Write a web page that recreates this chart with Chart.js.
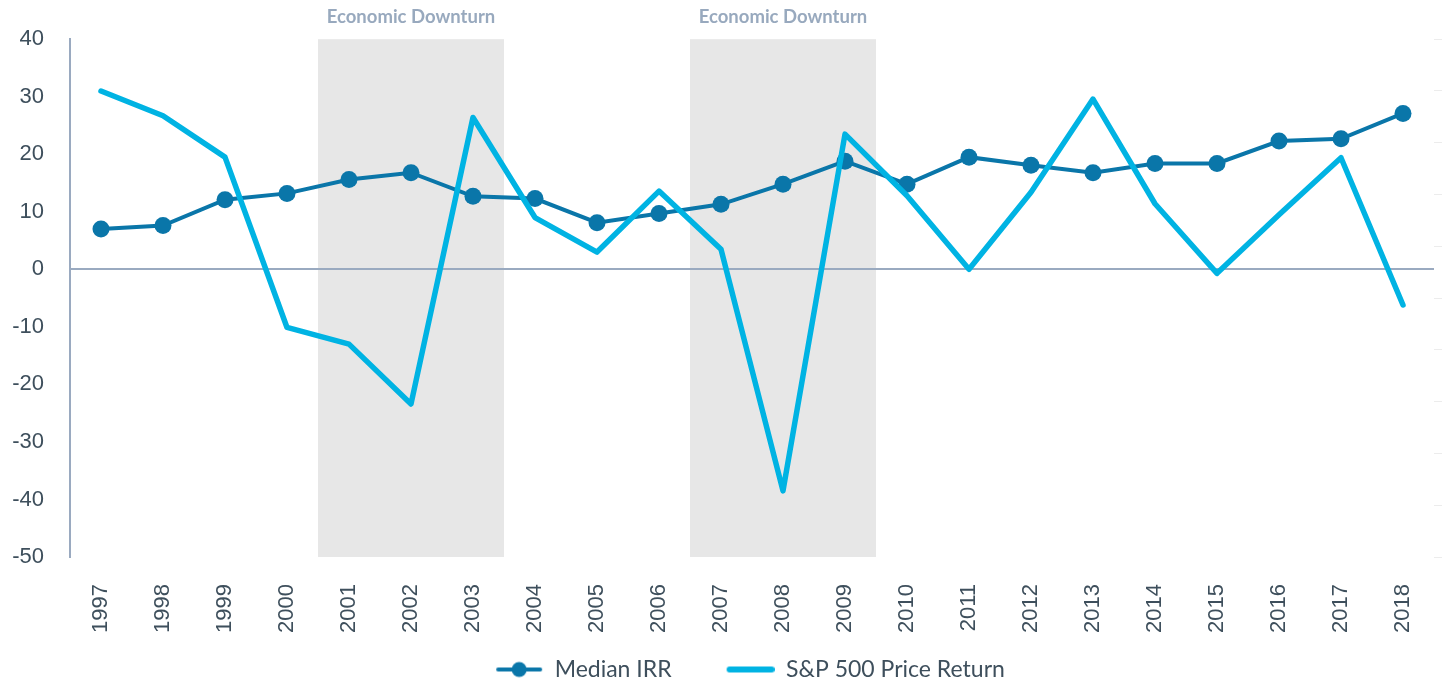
<!DOCTYPE html>
<html>
<head>
<meta charset="utf-8">
<script src="https://cdn.jsdelivr.net/npm/chart.js@4/dist/chart.umd.min.js"></script>
<style>
    html, body { margin: 0; padding: 0; background: #ffffff; }
    #wrap { width: 1443px; height: 683px; }
</style>
</head>
<body>
<div id="wrap"><canvas id="irrChart" width="1443" height="683"></canvas></div>
<script>
    // --- Data ---
    const years = ['1997', '1998', '1999', '2000', '2001', '2002', '2003', '2004', '2005', '2006', '2007',
        '2008', '2009', '2010', '2011', '2012', '2013', '2014', '2015', '2016', '2017', '2018'];
    const medianIrr = [7.0, 7.6, 12.1, 13.2, 15.6, 16.8, 12.7, 12.3, 8.1, 9.7, 11.3,
        14.8, 18.8, 14.8, 19.5, 18.1, 16.8, 18.4, 18.4, 22.3, 22.7, 27.1];
    const spReturn = [31.0, 26.7, 19.5, -10.1, -13.0, -23.4, 26.4, 9.0, 3.0, 13.6, 3.5,
        -38.5, 23.5, 12.8, 0.0, 13.4, 29.6, 11.4, -0.7, 9.5, 19.4, -6.2];
    const yTicks = [40, 30, 20, 10, 0, -10, -20, -30, -40, -50];
    // first and last year of each shaded band
    const downturnStart = ['2001', '2007'];
    const downturnEnd = ['2003', '2009'];
    const downturnLabel = 'Economic Downturn';

    const DARK_BLUE = '#0a76a9';
    const LIGHT_BLUE = '#00b3e3';
    const AXIS_COLOR = '#9aaac0';
    const TEXT_COLOR = '#3e4f5c';
    const MARKER_W = 95; // legend box width, the visible marker sits in its right 48px

    // --- Legend markers ---
    function lineMarker(withDot) {
        const c = document.createElement('canvas');
        c.width = MARKER_W;
        c.height = 18;
        const g = c.getContext('2d');
        const x0 = MARKER_W - 48;
        g.strokeStyle = withDot ? DARK_BLUE : LIGHT_BLUE;
        g.lineWidth = withDot ? 4 : 6;
        g.lineCap = 'round';
        g.beginPath();
        g.moveTo(x0 + 3, 9);
        g.lineTo(x0 + 45, 9);
        g.stroke();
        if (withDot) {
            g.fillStyle = DARK_BLUE;
            g.beginPath();
            g.arc(x0 + 24, 9, 7.5, 0, Math.PI * 2);
            g.fill();
        }
        return c;
    }

    // --- Plugins ---
    const downturnBands = {
        id: 'downturnBands',
        beforeDraw(chart) {
            const { ctx, chartArea, scales } = chart;
            const x = scales.x;
            ctx.save();
            downturnStart.forEach((start, i) => {
                const a = years.indexOf(start);
                const b = years.indexOf(downturnEnd[i]);
                const left = (x.getPixelForValue(a - 1) + x.getPixelForValue(a)) / 2;
                const right = (x.getPixelForValue(b) + x.getPixelForValue(b + 1)) / 2;
                ctx.fillStyle = '#e7e7e7';
                ctx.fillRect(left, chartArea.top, right - left, chartArea.bottom - chartArea.top);
                ctx.fillStyle = '#98a9be';
                ctx.font = 'bold 18.5px Lato';
                ctx.textAlign = 'center';
                ctx.textBaseline = 'middle';
                ctx.fillText(downturnLabel, (left + right) / 2, 17);
            });
            ctx.restore();
        }
    };

    new Chart(document.getElementById('irrChart'), {
        type: 'line',
        data: {
            labels: years,
            datasets: [{
                label: 'Median IRR',
                data: medianIrr,
                borderColor: DARK_BLUE,
                backgroundColor: DARK_BLUE,
                borderWidth: 4,
                pointRadius: 8.5,
                pointHoverRadius: 8.5,
                pointBackgroundColor: DARK_BLUE,
                pointBorderWidth: 0,
                tension: 0,
                order: 2
            }, {
                label: 'S&P 500 Price Return',
                data: spReturn,
                borderColor: LIGHT_BLUE,
                backgroundColor: LIGHT_BLUE,
                borderWidth: 5.5,
                borderCapStyle: 'round',
                borderJoinStyle: 'round',
                pointRadius: 0,
                tension: 0,
                order: 1
            }]
        },
        options: {
            responsive: false,
            animation: false,
            layout: { padding: { top: 39, left: 10, right: 0, bottom: -8 } },
            scales: {
                x: {
                    type: 'category',
                    offset: true,
                    grid: { display: false },
                    border: { display: false },
                    afterFit: (axis) => {
                        axis.height = 93;
                        axis.paddingLeft = 0;
                        axis.paddingRight = 0;
                    },
                    ticks: {
                        autoSkip: false,
                        maxRotation: 90,
                        minRotation: 90,
                        padding: 19,
                        color: TEXT_COLOR,
                        font: { family: 'Liberation Sans', size: 22 }
                    }
                },
                y: {
                    min: -50,
                    max: 40,
                    afterBuildTicks: (axis) => { axis.ticks = yTicks.map(v => ({ value: v })); },
                    afterFit: (axis) => { axis.width = 60; },
                    grid: {
                        drawTicks: false,
                        lineWidth: 2,
                        color: (c) => (c.tick && c.tick.value === 0 ? AXIS_COLOR : 'transparent')
                    },
                    border: { display: true, color: AXIS_COLOR, width: 2 },
                    ticks: {
                        padding: 26,
                        color: TEXT_COLOR,
                        font: { family: 'Liberation Sans', size: 22 }
                    }
                },
                y2: {
                    position: 'right',
                    min: 0,
                    max: 10,
                    afterFit: (axis) => { axis.width = 9; },
                    ticks: { display: false, stepSize: 1 },
                    grid: { drawOnChartArea: false, tickLength: 8, color: '#ececec' },
                    border: { display: false }
                }
            },
            plugins: {
                legend: {
                    position: 'bottom',
                    labels: {
                        usePointStyle: true,
                        pointStyleWidth: MARKER_W,
                        padding: 8,
                        color: TEXT_COLOR,
                        font: { family: 'Lato', size: 23 },
                        generateLabels: (chart) => chart.data.datasets.map((ds, i) => ({
                            text: ds.label,
                            datasetIndex: i,
                            pointStyle: lineMarker(i === 0),
                            fontColor: TEXT_COLOR,
                            hidden: false,
                            lineWidth: 0,
                            strokeStyle: 'transparent',
                            fillStyle: 'transparent'
                        }))
                    }
                },
                tooltip: { enabled: false }
            }
        },
        plugins: [downturnBands]
    });
</script>
</body>
</html>
